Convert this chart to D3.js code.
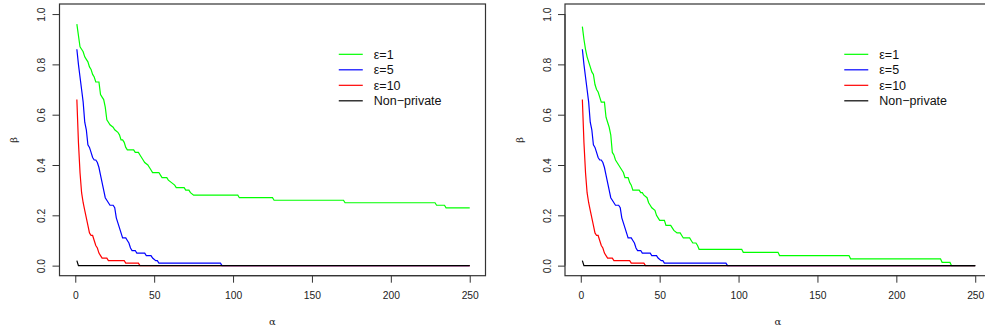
<!DOCTYPE html>
<html>
<head>
<meta charset="utf-8">
<script src="https://cdn.jsdelivr.net/npm/d3@7"></script>
<style>
  html, body { margin: 0; padding: 0; background: #fff; overflow: hidden; }
  svg { display: block; }
  .tick-label { font-family: "Liberation Sans", Arial, sans-serif; font-size: 10.3px; fill: #222; }
  .legend-label { font-family: "Liberation Sans", Arial, sans-serif; font-size: 12.5px; fill: #111; }
  .axis-title { font-family: "DejaVu Serif", serif; font-size: 10px; fill: #222; }
</style>
</head>
<body>
<div id="chart"></div>
<script>
// tick values
const alphaTicks = [0, 50, 100, 150, 200, 250];
const betaTicks = [0, 0.2, 0.4, 0.6, 0.8, 1.0];

const legendLabels = ['ε=1', 'ε=5', 'ε=10', 'Non−private'];
const lineColors = ['#00ff00', '#0000ff', '#ff0000', '#000000'];

// [alpha, beta] vertices
const eps1Left = [[1,0.96],[3,0.87],[4,0.86],[5,0.85],[6,0.83],[7,0.82],[8,0.81],[9,0.79],[10,0.78],[11,0.76],[12,0.75],[13,0.73],[15,0.73],[16,0.68],[17,0.67],[18,0.66],[19,0.63],[20,0.58],[21,0.57],[22,0.56],[24,0.55],[25,0.54],[27,0.53],[28,0.52],[29,0.50],[30,0.50],[31,0.49],[32,0.47],[33,0.46],[37,0.46],[38,0.45],[40,0.45],[41,0.44],[42,0.43],[43,0.42],[44,0.41],[46,0.40],[47,0.39],[48,0.38],[49,0.37],[53,0.37],[54,0.36],[55,0.35],[58,0.35],[59,0.34],[61,0.33],[63,0.32],[64,0.31],[69,0.31],[70,0.30],[72,0.30],[73,0.29],[75,0.28],[103,0.28],[104,0.27],[125,0.27],[126,0.26],[170,0.26],[171,0.25],[228,0.25],[229,0.24],[234,0.24],[235,0.23],[250,0.23]];

const eps1Right = [[1,0.95],[2,0.90],[3,0.86],[4,0.83],[5,0.81],[6,0.79],[7,0.77],[8,0.76],[9,0.72],[10,0.70],[11,0.69],[12,0.67],[13,0.65],[15,0.65],[16,0.59],[17,0.57],[18,0.55],[19,0.52],[20,0.45],[21,0.44],[22,0.42],[23,0.41],[24,0.40],[25,0.39],[26,0.38],[27,0.37],[28,0.35],[30,0.35],[31,0.33],[32,0.32],[33,0.30],[37,0.30],[38,0.29],[39,0.29],[40,0.28],[42,0.27],[43,0.25],[44,0.24],[45,0.23],[47,0.22],[48,0.20],[49,0.19],[50,0.18],[53,0.18],[54,0.16],[57,0.16],[58,0.15],[59,0.14],[61,0.13],[63,0.13],[64,0.12],[65,0.11],[69,0.11],[70,0.10],[71,0.09],[73,0.09],[74,0.08],[75,0.065],[102,0.065],[103,0.053],[125,0.053],[126,0.04],[170,0.04],[171,0.027],[228,0.027],[229,0.013],[234,0.013],[235,0],[250,0]];

const eps5 = [[1,0.86],[2,0.80],[3,0.75],[4,0.70],[5,0.65],[6,0.57],[7,0.54],[8,0.48],[9,0.47],[10,0.45],[11,0.43],[12,0.42],[13,0.42],[14,0.41],[15,0.39],[16,0.36],[17,0.33],[18,0.30],[19,0.27],[20,0.26],[21,0.25],[22,0.24],[24,0.24],[25,0.23],[26,0.19],[27,0.17],[28,0.15],[29,0.13],[30,0.11],[32,0.11],[33,0.10],[34,0.09],[35,0.07],[36,0.06],[38,0.06],[39,0.05],[44,0.05],[45,0.04],[48,0.04],[49,0.03],[51,0.02],[52,0.02],[53,0.01],[92,0.01],[93,0],[250,0]];

const eps10 = [[1,0.66],[2,0.49],[3,0.37],[4,0.29],[5,0.25],[6,0.22],[7,0.19],[8,0.16],[9,0.13],[10,0.12],[11,0.12],[12,0.10],[13,0.08],[14,0.07],[15,0.05],[16,0.04],[17,0.03],[20,0.03],[21,0.02],[31,0.02],[32,0.01],[40,0.01],[41,0],[250,0]];

const nonPrivate = [[1,0.02],[2,0],[250,0]];

const panels = [
  { left: 59.5, series: [eps1Left, eps5, eps10, nonPrivate] },
  { left: 565, series: [eps1Right, eps5, eps10, nonPrivate] }
];

const width = 985, height = 333;
const plotW = 426, plotTop = 4, plotH = 271.7;

const svg = d3.select('#chart').append('svg')
  .attr('width', width)
  .attr('height', height);

panels.forEach(function(p) {
  const x = d3.scaleLinear().domain([-10, 260]).range([p.left, p.left + plotW]);
  const y = d3.scaleLinear().domain([-0.04, 1.04]).range([plotTop + plotH, plotTop]);

  const g = svg.append('g').attr('class', 'panel');

  const line = d3.line()
    .x(function(d) { return x(d[0]); })
    .y(function(d) { return y(d[1]); });

  p.series.forEach(function(s, i) {
    g.append('path')
      .datum(s)
      .attr('fill', 'none')
      .attr('stroke', lineColors[i])
      .attr('stroke-width', 1.2)
      .attr('d', line);
  });

  // box
  g.append('rect')
    .attr('x', p.left)
    .attr('y', plotTop)
    .attr('width', plotW)
    .attr('height', plotH)
    .attr('fill', 'none')
    .attr('stroke', '#333')
    .attr('stroke-width', 1.2);

  // x axis
  const xAxis = d3.axisBottom(x).tickValues(alphaTicks).tickSize(7).tickPadding(9)
    .tickFormat(d3.format('d'));
  const gx = g.append('g')
    .attr('transform', 'translate(0,' + (plotTop + plotH) + ')')
    .call(xAxis);
  gx.select('.domain').attr('d', 'M' + x(0) + ',0H' + x(250)).attr('stroke', '#333');
  gx.selectAll('.tick line').attr('stroke', '#333');
  gx.selectAll('.tick text').attr('class', 'tick-label');
  gx.attr('font-family', null).attr('font-size', null);

  // y axis
  const yAxis = d3.axisLeft(y).tickValues(betaTicks).tickSize(7).tickFormat(d3.format('.1f'));
  const gy = g.append('g')
    .attr('transform', 'translate(' + p.left + ',0)')
    .call(yAxis);
  gy.attr('font-family', null).attr('font-size', null);
  gy.select('.domain').attr('d', 'M0,' + y(0) + 'V' + y(1)).attr('stroke', '#333');
  gy.selectAll('.tick line').attr('stroke', '#333');
  gy.selectAll('.tick text')
    .attr('class', 'tick-label')
    .attr('x', null)
    .attr('text-anchor', 'middle')
    .attr('transform', 'translate(-18,0) rotate(-90)')
    .attr('dy', '0.35em');

  // axis titles
  g.append('text')
    .attr('class', 'axis-title')
    .attr('x', p.left + plotW / 2)
    .attr('y', 325)
    .attr('text-anchor', 'middle')
    .text('α');
  g.append('text')
    .attr('class', 'axis-title')
    .attr('transform', 'translate(' + (p.left - 46) + ',' + (plotTop + plotH / 2) + ') rotate(-90)')
    .attr('text-anchor', 'middle')
    .attr('dy', '0.35em')
    .text('β');

  // legend
  const lx = x(167), ly = y(0.84);
  const leg = g.append('g').attr('class', 'legend');
  legendLabels.forEach(function(lab, i) {
    const yy = ly + i * 15.5;
    leg.append('line')
      .attr('x1', lx).attr('x2', lx + 24)
      .attr('y1', yy).attr('y2', yy)
      .attr('stroke', lineColors[i])
      .attr('stroke-width', 1.2);
    leg.append('text')
      .attr('class', 'legend-label')
      .attr('x', lx + 35)
      .attr('y', yy)
      .attr('dy', '0.35em')
      .text(lab);
  });
});
</script>
</body>
</html>
